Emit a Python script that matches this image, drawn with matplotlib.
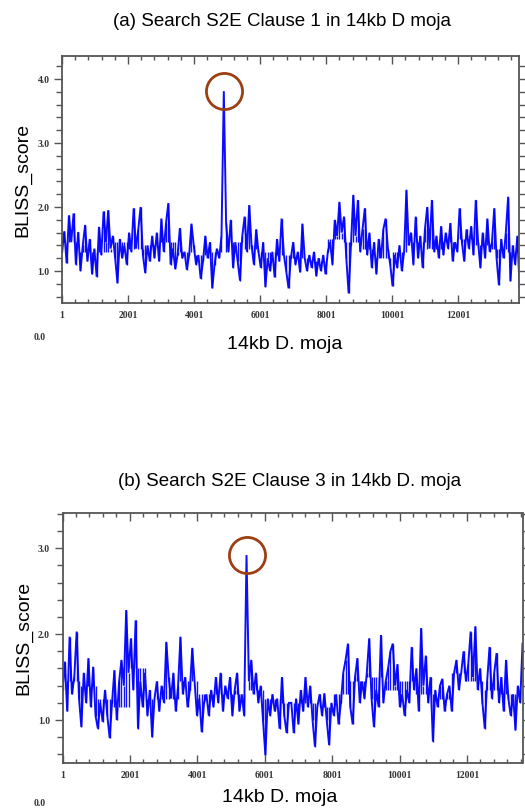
import numpy as np
import matplotlib
matplotlib.use("Agg")
import matplotlib.pyplot as plt
from matplotlib.ticker import FixedLocator, MultipleLocator, FormatStrFormatter
import matplotlib.transforms as mtransforms

# ---------------- data (BLISS score per 70 bp window) -------------
window_step = 70
block_size = 500  # local median level is read per 500 bp block

scores_a = [
    1.30, 1.62, 1.12, 1.87, 1.45, 1.90, 1.10, 1.61, 1.00, 1.40,
    1.72, 1.15, 1.50, 0.95, 1.35, 0.91, 1.69, 1.25, 1.93, 1.45,
    1.95, 1.35, 1.55, 1.20, 0.81, 1.50, 1.20, 1.40, 1.10, 1.60,
    1.30, 1.98, 1.35, 1.65, 2.00, 1.25, 0.97, 1.40, 1.15, 1.55,
    1.20, 1.60, 1.15, 1.82, 1.30, 1.75, 2.06, 1.10, 1.35, 1.03,
    1.25, 1.67, 1.20, 1.30, 1.02, 1.25, 1.74, 1.40, 1.10, 1.25,
    0.88, 1.15, 1.55, 1.20, 1.45, 0.73, 1.10, 1.35, 1.20, 1.55,
    3.81, 1.75, 1.30, 1.80, 1.05, 1.45, 1.15, 0.85, 1.55, 1.85,
    1.30, 2.03, 1.40, 1.10, 1.65, 1.30, 1.05, 1.45, 0.75, 1.20,
    1.00, 1.30, 0.90, 1.50, 1.15, 1.82, 1.25, 1.00, 0.73, 1.20,
    1.45, 1.10, 1.30, 0.98, 1.74, 1.20, 1.00, 1.25, 1.05, 1.30,
    0.92, 1.20, 1.00, 1.25, 0.95, 1.30, 1.45, 1.10, 1.80, 1.55,
    2.08, 1.60, 1.85, 1.20, 0.65, 1.40, 2.19, 1.55, 2.11, 1.30,
    1.65, 1.98, 1.25, 1.60, 1.05, 1.45, 0.95, 1.50, 1.20, 1.65,
    1.82, 1.35, 1.10, 0.76, 1.25, 1.05, 1.40, 1.00, 1.30, 2.27,
    1.40, 1.60, 1.10, 1.85, 1.20, 1.55, 1.05, 1.65, 2.00, 1.35,
    2.11, 1.30, 1.55, 1.20, 1.70, 1.25, 1.60, 1.35, 1.75, 1.15,
    1.45, 1.30, 1.98, 1.45, 1.15, 1.65, 1.35, 1.70, 1.25, 2.11,
    1.45, 1.05, 1.60, 1.20, 1.82, 1.30, 1.45, 1.98, 1.20, 0.78,
    1.50, 1.20, 1.60, 2.16, 0.84, 1.40, 1.10, 1.55, 0.70, 1.60,
]
# local median level of panel (a), one value per 500 bp block
level_a = [1.45, 1.30, 1.30, 1.45, 1.35, 1.40, 1.45, 1.30, 1.25, 1.30,
           1.45, 1.35, 1.30, 1.25, 1.20, 1.15, 1.50, 1.45, 1.35, 1.20,
           1.30, 1.45, 1.35, 1.45, 1.50, 1.40, 1.35, 1.30]

scores_b = [
    1.35, 1.68, 1.10, 1.97, 1.30, 1.50, 2.03, 1.25, 0.92, 1.55,
    1.20, 1.72, 1.15, 1.62, 1.05, 0.90, 1.20, 0.98, 1.35, 1.05,
    0.79, 1.20, 1.58, 1.00, 1.45, 1.70, 1.40, 2.28, 1.55, 1.95,
    1.35, 2.16, 0.90, 1.45, 1.15, 1.55, 1.05, 1.35, 0.80, 1.25,
    1.45, 1.10, 1.40, 1.20, 1.91, 1.50, 1.25, 1.55, 1.10, 1.40,
    1.97, 1.30, 1.50, 1.15, 1.35, 1.84, 1.45, 1.05, 1.25, 0.86,
    1.20, 1.30, 1.05, 1.35, 1.15, 1.50, 1.20, 1.55, 1.10, 1.40,
    1.25, 1.50, 1.05, 1.35, 1.55, 1.10, 1.30, 1.05, 2.92, 1.45,
    1.70, 1.30, 1.55, 1.20, 1.40, 1.00, 0.59, 1.25, 1.05, 1.30,
    1.10, 1.25, 0.90, 1.50, 1.05, 0.85, 1.20, 1.20, 0.85, 1.25,
    0.95, 1.35, 1.10, 1.50, 1.15, 1.40, 1.00, 0.69, 1.15, 1.30,
    1.05, 1.31, 1.00, 0.71, 1.20, 1.05, 1.30, 0.95, 1.20, 1.55,
    1.70, 1.89, 1.15, 0.95, 1.50, 1.72, 1.20, 1.45, 1.25, 1.55,
    1.95, 1.25, 0.92, 1.35, 1.15, 1.99, 1.20, 1.45, 1.60, 1.80,
    1.89, 1.40, 1.65, 1.15, 1.30, 1.05, 1.35, 1.20, 1.85, 1.35,
    1.60, 1.10, 2.07, 1.40, 1.75, 1.20, 1.50, 0.75, 1.35, 1.15,
    1.40, 1.48, 1.10, 1.30, 1.40, 1.10, 1.55, 1.70, 1.35, 1.55,
    1.80, 1.45, 1.65, 2.03, 1.50, 2.09, 1.35, 1.60, 1.20, 0.90,
    1.45, 1.85, 1.25, 1.55, 1.78, 1.20, 1.50, 1.10, 1.70, 1.25,
    1.05, 1.30, 0.88, 1.40, 1.20, 1.89,
]
level_b = [1.45, 1.40, 1.25, 1.15, 1.60, 1.25, 1.25, 1.45, 1.30, 1.30,
           1.30, 1.35, 1.25, 1.20, 1.20, 1.15, 1.30, 1.45, 1.50, 1.35,
           1.45, 1.30, 1.25, 1.55, 1.45, 1.35, 1.30, 1.35]

title_a = "(a) Search S2E Clause 1 in 14kb D moja"
title_b = "(b) Search S2E Clause 3 in 14kb D. moja"
xlabel = "14kb D. moja"
ylabel = "BLISS_score"
major_xticks = [1, 2001, 4001, 6001, 8001, 10001, 12001]

# ---------------- styling -------------
LINE = "#0000ff"
CIRC = "#9c3f12"
SPINE = "#555555"
serif = ["Liberation Serif", "DejaVu Serif"]

fig = plt.figure(figsize=(5.25, 8.09), dpi=100)

def make_panel(rect, scores, levels, xmax, ylim, title, title_y, title_x,
               xlab_y, xlab_x, zero_y, circ_dx, circ_dy):
    ax = fig.add_axes(rect)
    scores = np.asarray(scores)
    pos = 1 + window_step * np.arange(len(scores))
    base = np.asarray(levels)[np.minimum(pos // block_size, len(levels) - 1)]
    k = int(np.argmax(scores))
    keep = np.arange(len(scores)) != k
    ax.vlines(pos[keep], base[keep], scores[keep], color="#1414f2", lw=1.0)
    ax.plot(pos, scores, color=LINE, lw=1.4, alpha=0.95, solid_joinstyle="miter")
    ax.set_xlim(1, xmax)
    ax.set_ylim(*ylim)

    # circle around the peak
    off = mtransforms.ScaledTranslation(circ_dx / 100, circ_dy / 100, fig.dpi_scale_trans)
    ax.plot([pos[k]], [scores[k]], marker="o", ms=26, mfc="none", mec=CIRC, mew=2.0,
            transform=ax.transData + off, clip_on=False)

    ax.xaxis.set_major_locator(FixedLocator(major_xticks))
    ax.xaxis.set_minor_locator(FixedLocator(np.arange(1, xmax, 400)))
    ax.yaxis.set_major_locator(MultipleLocator(1.0))
    ax.yaxis.set_minor_locator(MultipleLocator(0.2))
    ax.yaxis.set_major_formatter(FormatStrFormatter("%.1f"))
    ax.xaxis.set_major_formatter(FormatStrFormatter("%d"))

    ax.tick_params(axis="x", which="both", direction="in", top=True, bottom=True,
                   color=SPINE, width=1.0, labelsize=7, pad=6)
    ax.tick_params(axis="x", which="major", length=6)
    ax.tick_params(axis="x", which="minor", length=3)
    ax.tick_params(axis="y", which="both", direction="out", left=True, right=True,
                   color=SPINE, width=1.0, labelsize=7, pad=3)
    ax.tick_params(axis="y", which="major", length=6)
    ax.tick_params(axis="y", which="minor", length=4)
    for lab in ax.get_xticklabels() + ax.get_yticklabels():
        lab.set_fontfamily(serif)
        lab.set_fontweight("bold")
        lab.set_color("#333333")
    for s in ax.spines.values():
        s.set_color(SPINE)
        s.set_linewidth(1.3)

    ax.set_ylabel(ylabel, fontsize=14, family=["Liberation Sans", "DejaVu Sans"], labelpad=4)
    fig.text(title_x, title_y, title, ha="center", va="center", fontsize=13.5,
             family=["Liberation Sans", "DejaVu Sans"])
    fig.text(xlab_x, xlab_y, xlabel, ha="center", va="center", fontsize=14,
             family=["Liberation Sans", "DejaVu Sans"])
    fig.text(40 / 525, zero_y, "0.0", ha="center", va="center", fontsize=7,
             family=serif, fontweight="bold", color="#333333")
    return ax

W, H = 525, 809
make_panel([62 / W, 1 - 303 / H, 457 / W, 247 / H], scores_a, level_a, 13840,
           (0.5, 4.36), title_a, 1 - 22 / H, 282 / W, 1 - 345 / H, 285 / W, 1 - 337 / H,
           -0.02, 0.04)
make_panel([62.5 / W, 1 - 763 / H, 460 / W, 250 / H], scores_b, level_b, 13650,
           (0.5, 3.41), title_b, 1 - 482 / H, 290 / W, 1 - 797 / H, 280 / W, 1 - 804 / H,
           0.05, 0.0)

fig.savefig("out.png", dpi=100)
